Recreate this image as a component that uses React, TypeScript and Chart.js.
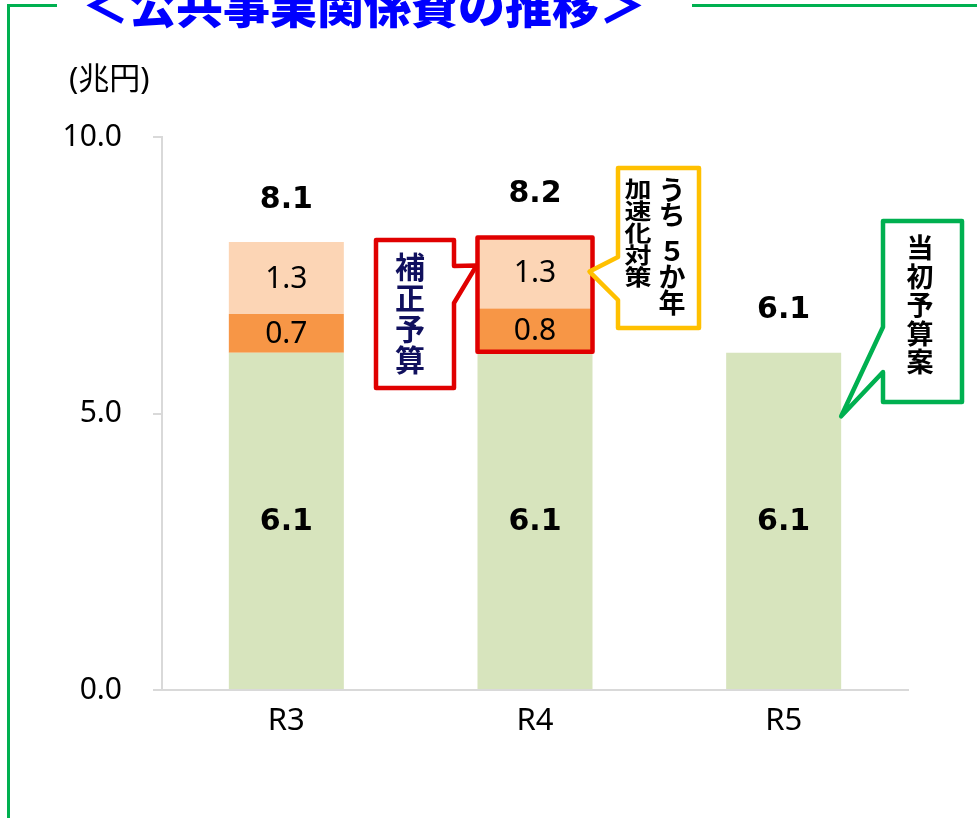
import React, { useEffect, useRef } from "react";
import { Chart, registerables } from "chart.js";

Chart.register(...registerables);

// ---- data ----
const categories = ["R3", "R4", "R5"];
const initialBudget = [6.1, 6.1, 6.1]; // 当初予算
const supplementaryOther = [0.7, 0.8, null]; // 補正予算（5か年以外）
const fiveYearAcceleration = [1.3, 1.3, null]; // うち5か年加速化対策
const yTickValues = [0, 5, 10];
const titleText = "＜公共事業関係費の推移＞";
const unitText = "(兆円)";
const redCalloutText = ["補", "正", "予", "算"];
const yellowCalloutRight = ["う", "ち", "５", "か", "年"];
const yellowCalloutLeft = ["加", "速", "化", "対", "策"];
const greenCalloutText = ["当", "初", "予", "算", "案"];

const totals = categories.map(
  (_, i) => (initialBudget[i] || 0) + (supplementaryOther[i] || 0) + (fiveYearAcceleration[i] || 0)
);

const JP = '"Noto Sans CJK JP", "Noto Sans", sans-serif';
const NUM = '"Noto Sans", "Noto Sans CJK JP", sans-serif';
const BOLDNUM = '"DejaVu Sans", "Noto Sans", sans-serif';

const labelPlugin = {
  id: "valueLabels",
  afterDatasetsDraw(chart: any) {
    const ctx = chart.ctx;
    ctx.save();
    ctx.textAlign = "center";
    ctx.textBaseline = "middle";
    ctx.fillStyle = "#000";
    chart.data.datasets.forEach((ds: any, di: number) => {
      const meta = chart.getDatasetMeta(di);
      meta.data.forEach((el: any, i: number) => {
        const v = ds.data[i];
        if (!v) return;
        const p = el.getProps(["x", "y", "base"], true);
        ctx.font = di === 0 ? `bold 30px ${BOLDNUM}` : `30px ${NUM}`;
        ctx.fillText(v.toFixed(1), p.x, (p.y + p.base) / 2 + 1);
      });
    });
    const ys = chart.scales.y;
    const meta0 = chart.getDatasetMeta(0);
    ctx.font = `bold 30px ${BOLDNUM}`;
    totals.forEach((t, i) => {
      const x = meta0.data[i].x;
      ctx.fillText(t.toFixed(1), x, ys.getPixelForValue(t) - 42);
    });
    ctx.restore();
  },
};

function drawVertical(ctx: any, chars: string[], x: number, y0: number, pitch: number, font: string, color: string, sy = 1) {
  ctx.save();
  ctx.font = font;
  ctx.fillStyle = color;
  ctx.textAlign = "center";
  ctx.textBaseline = "middle";
  chars.forEach((c, k) => {
    const y = y0 + k * pitch;
    ctx.save();
    ctx.translate(x, y);
    ctx.scale(1, sy);
    ctx.fillText(c, 0, 0);
    ctx.restore();
  });
  ctx.restore();
}

const annotationPlugin = {
  id: "annotations",
  afterDraw(chart: any) {
    const ctx = chart.ctx;
    const ys = chart.scales.y;
    const m0 = chart.getDatasetMeta(0);
    const r4 = m0.data[1];
    const r5 = m0.data[2];
    const r4w = r4.width;
    const r4L = r4.x - r4w / 2;
    const r4R = r4.x + r4w / 2;
    const r4Top = ys.getPixelForValue(totals[1]);
    const r4Base = ys.getPixelForValue(initialBudget[1]);
    const r5R = r5.x + r5.width / 2;

    ctx.save();
    // frame
    ctx.strokeStyle = "#00B050";
    ctx.lineWidth = 3;
    ctx.beginPath();
    ctx.moveTo(57, 5.5);
    ctx.lineTo(8.5, 5.5);
    ctx.lineTo(8.5, 818);
    ctx.moveTo(692, 5.5);
    ctx.lineTo(977, 5.5);
    ctx.stroke();

    // title
    ctx.fillStyle = "#0000FF";
    ctx.font = `900 47px ${JP}`;
    ctx.textAlign = "center";
    ctx.textBaseline = "middle";
    ctx.fillText(titleText, 364, 5);

    // unit
    ctx.fillStyle = "#000";
    ctx.font = `31px ${NUM}`;
    ctx.textAlign = "left";
    ctx.fillText(unitText, 69, 80);

    // red rectangle around R4 supplementary
    ctx.lineJoin = "round";
    ctx.strokeStyle = "#E00000";
    ctx.lineWidth = 4.5;
    ctx.strokeRect(r4L, r4Top + 1, r4w, r4Base - r4Top - 2);

    // red callout
    ctx.beginPath();
    ctx.moveTo(376, 240);
    ctx.lineTo(454, 240);
    ctx.lineTo(454, 266);
    ctx.lineTo(r4L - 1, r4Top + 29);
    ctx.lineTo(454, 303);
    ctx.lineTo(454, 388);
    ctx.lineTo(376, 388);
    ctx.closePath();
    ctx.fillStyle = "#fff";
    ctx.fill();
    ctx.stroke();
    drawVertical(ctx, redCalloutText, 410, 267, 31, `bold 30px ${JP}`, "#10105E");

    // yellow callout
    ctx.strokeStyle = "#FFC000";
    ctx.lineWidth = 4.5;
    ctx.beginPath();
    ctx.moveTo(618, 168);
    ctx.lineTo(699, 168);
    ctx.lineTo(699, 328);
    ctx.lineTo(618, 328);
    ctx.lineTo(618, 300);
    ctx.lineTo(r4R - 3, r4Top + 35);
    ctx.lineTo(618, 257);
    ctx.closePath();
    ctx.fillStyle = "#fff";
    ctx.fill();
    ctx.stroke();
    drawVertical(ctx, yellowCalloutRight.slice(0, 2), 672, 190, 25, `bold 27px ${JP}`, "#000");
    drawVertical(ctx, yellowCalloutRight.slice(2), 672, 251, 26, `bold 27px ${JP}`, "#000");
    drawVertical(ctx, yellowCalloutLeft, 638, 189, 22, `bold 27px ${JP}`, "#000", 0.8);

    // green callout
    ctx.strokeStyle = "#00B050";
    ctx.lineWidth = 4.5;
    ctx.beginPath();
    ctx.moveTo(883, 221);
    ctx.lineTo(962, 221);
    ctx.lineTo(962, 402);
    ctx.lineTo(883, 402);
    ctx.lineTo(883, 372);
    ctx.lineTo(r5R, ys.getPixelForValue(4.95));
    ctx.lineTo(883, 327);
    ctx.closePath();
    ctx.fillStyle = "#fff";
    ctx.fill();
    ctx.stroke();
    drawVertical(ctx, greenCalloutText, 920, 248, 28.5, `bold 27px ${JP}`, "#000");

    ctx.restore();
  },
};

export default function App() {
  const ref = useRef<HTMLCanvasElement | null>(null);
  useEffect(() => {
    if (!ref.current) return;
    const chart = new Chart(ref.current, {
      type: "bar",
      data: {
        labels: categories,
        datasets: [
          { label: "当初予算", data: initialBudget, backgroundColor: "#D7E4BD" },
          { label: "補正予算", data: supplementaryOther as any, backgroundColor: "#F79646" },
          { label: "うち5か年加速化対策", data: fiveYearAcceleration as any, backgroundColor: "#FCD5B5" },
        ],
      },
      options: {
        responsive: false,
        animation: false,
        events: [],
        layout: { padding: { top: 137, right: 69, bottom: 0, left: 0 } },
        plugins: { legend: { display: false }, tooltip: { enabled: false }, title: { display: false } },
        datasets: { bar: { barPercentage: 0.4625, categoryPercentage: 1 } },
        scales: {
          x: {
            stacked: true,
            grid: { display: false, drawTicks: false },
            border: { display: true, color: "#D9D9D9", width: 2 },
            ticks: { color: "#000", font: { family: NUM, size: 31 }, padding: 13 },
            afterFit: (s: any) => {
              s.height = 128;
            },
          },
          y: {
            stacked: true,
            min: 0,
            max: 10,
            afterBuildTicks: (s: any) => {
              s.ticks = yTickValues.map((v) => ({ value: v }));
            },
            grid: { drawOnChartArea: false, drawTicks: true, tickLength: 9, color: "#D9D9D9", lineWidth: 2 },
            border: { display: true, color: "#D9D9D9", width: 2 },
            ticks: {
              color: "#000",
              font: { family: NUM, size: 30 },
              padding: 31,
              callback: (v: any) => Number(v).toFixed(1),
            },
            afterFit: (s: any) => {
              s.width = 162;
            },
          },
        },
      },
      plugins: [labelPlugin, annotationPlugin],
    });
    return () => chart.destroy();
  }, []);
  return (
    <div style={{ position: "absolute", left: 0, top: 0, width: 977, height: 818, background: "#fff" }}>
      <canvas ref={ref} width={977} height={818} style={{ display: "block" }} />
    </div>
  );
}
